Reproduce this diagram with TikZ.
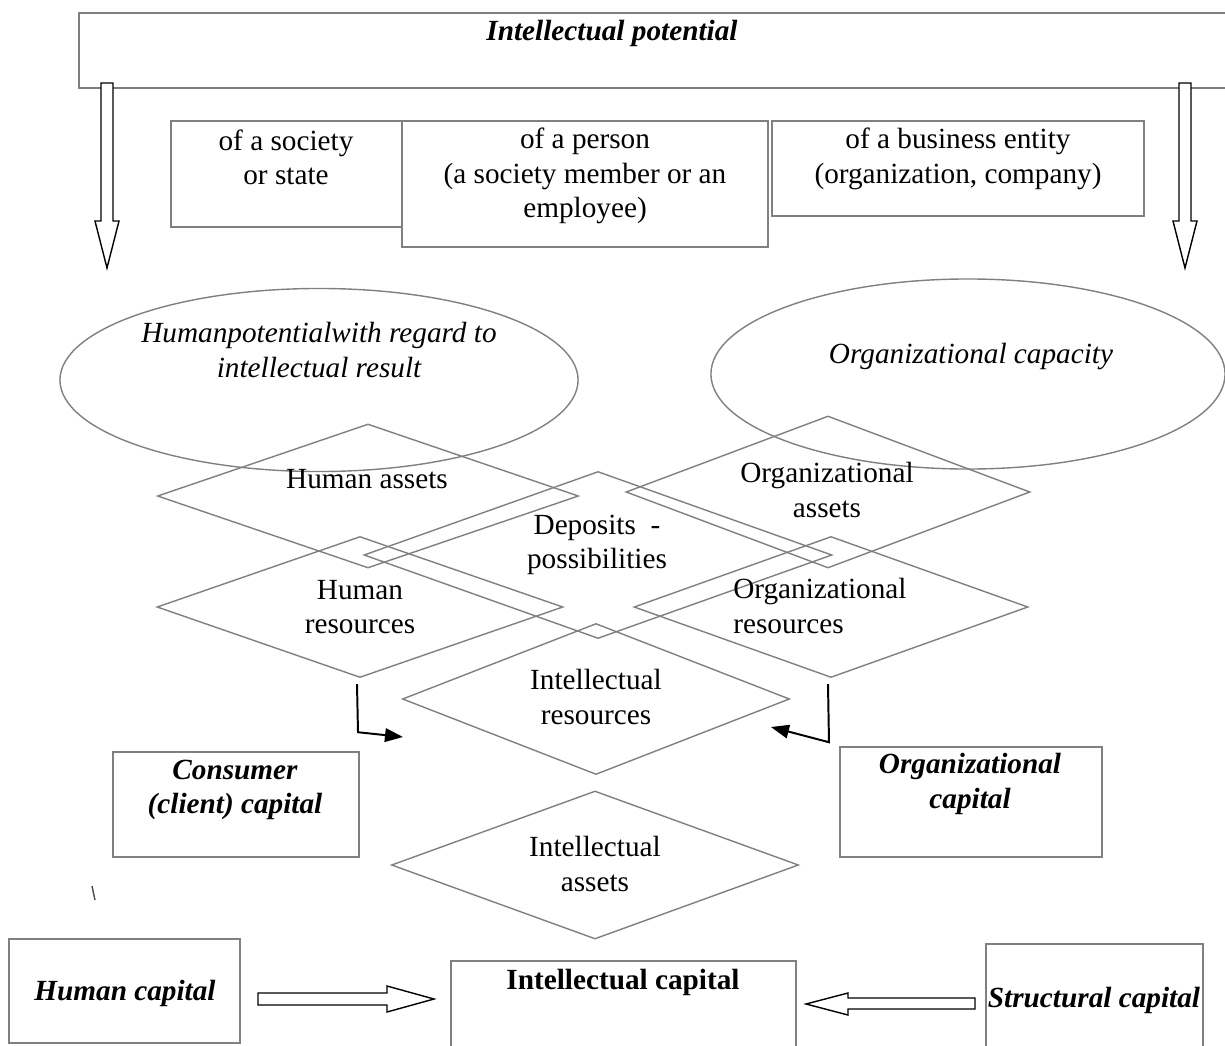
\documentclass[tikz,border=0pt]{standalone}
\usepackage{fontspec}
\setmainfont{Liberation Serif}
\usetikzlibrary{shapes.geometric,fit,arrows.meta}
\definecolor{linegray}{RGB}{128,128,128}
\begin{document}
\fontsize{20.8}{24.5}\selectfont
\begin{tikzpicture}[x=0.025cm, y=-0.025cm,
  box/.style={draw=linegray, line width=1pt, inner sep=0},
  rhomb/.style={diamond, draw=linegray, line width=1pt, inner sep=0},
  oval/.style={ellipse, draw=linegray, line width=1pt, inner sep=0},
  txt/.style={align=center, inner sep=0},
  hollow/.style={draw=black, line width=1pt, fill=white},
  elbow/.style={draw=black, line width=1.4pt, -{Triangle[length=4.5mm,width=3.4mm]}}]
\useasboundingbox (0,0) rectangle (1225,1046);
% top row
\node[box, fit={(79,13) (1240,88)}] (pot) {};
\node[txt, font=\bfseries\itshape] (pottxt) at (612,33) {Intellectual potential};
\node[box, fit={(171,121) (402,227)}] (soc) {};
\node[box, fit={(402,121) (768,247)}] (per) {};
\node[box, fit={(772,121) (1144,216)}] (bus) {};
\node[txt] (soctxt) at (286,157.5) {of a society\\or state};
\node[txt] (pertxt) at (585,176) {of a person\\(a society member or an\\employee)};
\node[txt] (bustxt) at (958,159) {of a business entity\\(organization, company)};
\draw[hollow] (101,83) -- (113,83) -- (113,221) -- (119,221) -- (107,268) -- (95,221) -- (101,221) -- cycle;
\draw[hollow] (1179,83) -- (1191,83) -- (1191,221) -- (1197,221) -- (1185,268) -- (1173,221) -- (1179,221) -- cycle;

% ellipses
\node[oval, minimum width=12.95cm, minimum height=4.575cm] (hp) at (319,380) {};
\node[oval, minimum width=12.85cm, minimum height=4.75cm] (oc) at (968,374) {};
\node[txt, font=\itshape] (hptxt) at (319,350) {Humanpotentialwith regard to\\intellectual result};
\node[txt, font=\itshape] (octxt) at (971,357) {Organizational capacity};

% diamonds
\node[rhomb, minimum width=10.525cm, minimum height=3.6cm] (ha) at (368,496) {};
\node[rhomb, minimum width=10.15cm, minimum height=3.525cm] (hr) at (360,607) {};
\node[rhomb, minimum width=11.7cm, minimum height=4.175cm] (dep) at (598,555) {};
\node[rhomb, minimum width=10.1cm, minimum height=3.8cm] (oa) at (828,492) {};
\node[rhomb, minimum width=9.85cm, minimum height=3.525cm] (or) at (831,607) {};
\node[rhomb, minimum width=9.675cm, minimum height=3.775cm] (ir) at (596,699) {};
\node[rhomb, minimum width=10.175cm, minimum height=3.7cm] (ia) at (595,865) {};
\node[txt] (hatxt) at (367,479) {Human assets};
\node[txt] (hrtxt) at (360,607) {Human\\resources};
\node[txt] (deptxt) at (597,545) {Deposits \ -\\possibilities};
\node[txt] (oatxt) at (827,490) {Organizational\\assets};
\node[txt, align=left, anchor=west] (ortxt) at (733,606) {Organizational\\resources};
\node[txt] (irtxt) at (596,697) {Intellectual\\resources};
\node[txt] (iatxt) at (595,864) {Intellectual\\assets};

% bent arrows
\coordinate (irl) at (403,737);
\coordinate (irr) at (771,727);
\draw[elbow] ([shift={(-3,6)}]hr.south) -- ++(1,48) -- (irl);
\draw[elbow] ([shift={(-3,6)}]or.south) -- ++(1,58) -- (irr);

% capitals
\node[box, fit={(113,752) (359,857)}] (cons) {};
\node[box, fit={(840,747) (1102,857)}] (orgc) {};
\node[txt, font=\bfseries\itshape] (constxt) at (235,790) {Consumer\\(client) capital};
\node[txt, font=\bfseries\itshape] (orgctxt) at (970,784) {Organizational\\capital};
\draw[line width=1pt, black!70] (92,886) -- (95,900);

\node[box, fit={(9,939) (240,1043)}] (hum) {};
\node[box, fit={(451,961) (796,1050)}] (ic) {};
\node[box, fit={(986,944) (1203,1050)}] (str) {};
\node[txt, font=\bfseries\itshape] (humtxt) at (125,993) {Human capital};
\node[txt, font=\bfseries] (ictxt) at (623,982) {Intellectual capital};
\node[txt, font=\bfseries\itshape] (strtxt) at (1094,1000) {Structural capital};
\draw[hollow] (258,993) -- (387,993) -- (387,986) -- (434,999) -- (387,1012) -- (387,1005) -- (258,1005) -- cycle;
\draw[hollow] (975,998) -- (848,998) -- (848,993) -- (806,1004) -- (848,1015) -- (848,1009) -- (975,1009) -- cycle;
\end{tikzpicture}
\end{document}
